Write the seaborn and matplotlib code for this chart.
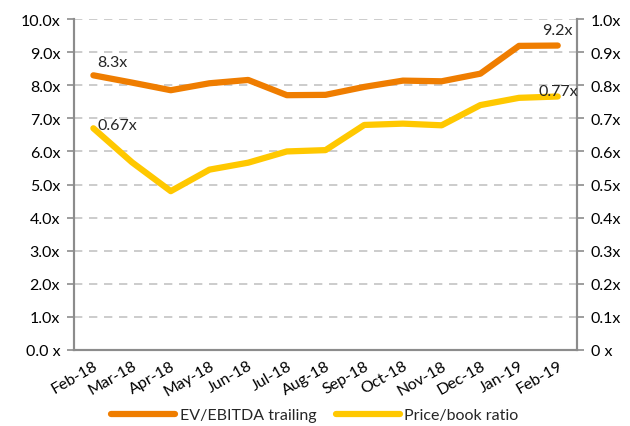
import matplotlib
matplotlib.use("Agg")
import matplotlib.pyplot as plt
import numpy as np
import pandas as pd
import seaborn as sns

months = ["Feb-18", "Mar-18", "Apr-18", "May-18", "Jun-18", "Jul-18", "Aug-18",
          "Sep-18", "Oct-18", "Nov-18", "Dec-18", "Jan-19", "Feb-19"]
ev_ebitda = [8.3, 8.08, 7.85, 8.06, 8.16, 7.7, 7.71, 7.95, 8.14, 8.12, 8.35, 9.19, 9.2]
price_book = [0.67, 0.567, 0.48, 0.545, 0.566, 0.60, 0.604, 0.68, 0.684, 0.679, 0.74, 0.762, 0.766]
left_ticks = ["0.0 x"] + [f"{v:.1f}x" for v in range(1, 11)]
right_ticks = ["0 x"] + [f"{v/10:.1f}x" for v in range(1, 11)]

orange = "#EF7D00"
yellow = "#FFC800"
grey = "#8c8c8c"
fs = 11.5

sns.set_style("white")
plt.rcParams["font.family"] = ["Lato", "DejaVu Sans"]

df = pd.DataFrame({"month": months, "ev": ev_ebitda, "pb": price_book})

fig = plt.figure(figsize=(6.3, 4.27), dpi=100)
ax = fig.add_axes([0.1175, 0.178, 0.7985, 0.775])
ax2 = ax.twinx()

sns.lineplot(data=df, x="month", y="ev", ax=ax, color=orange, lw=4.5, sort=False,
             label="EV/EBITDA trailing", legend=False)
sns.lineplot(data=df, x="month", y="pb", ax=ax2, color=yellow, lw=4.5, sort=False,
             label="Price/book ratio", legend=False)

ax.set_ylim(0, 10)
ax2.set_ylim(0, 1)
ax.set_xlim(-0.5, len(months) - 0.5)

ax.set_yticks(range(11))
ax.set_yticklabels(left_ticks)
ax2.set_yticks(np.arange(11) / 10)
ax2.set_yticklabels(right_ticks)

for y in range(1, 11):
    ax.axhline(y, color="#c4c4c4", lw=1.2, ls=(0, (5, 4)), zorder=0)

ax.set_xticks(range(len(months)))
ax.set_xticklabels(months, rotation=30, ha="right", rotation_mode="anchor")
ax.set_xticks(np.arange(-0.5, len(months)), minor=True)
ax.tick_params(axis="x", which="major", length=0, pad=6)
ax.tick_params(axis="x", which="minor", length=5, color=grey, width=1.2)
ax.tick_params(axis="y", length=5, color=grey, width=1.2, left=True, pad=5)
ax2.tick_params(axis="y", length=5, color=grey, width=1.2, right=True, pad=5)
for a in (ax, ax2):
    a.tick_params(labelsize=fs, labelcolor="black")
    a.set_xlabel("")
    a.set_ylabel("")
    a.spines["top"].set_visible(False)
    for s in ("left", "right", "bottom"):
        a.spines[s].set_color(grey)
        a.spines[s].set_linewidth(1.5)

ax.text(0.1, ev_ebitda[0] + 0.2, "8.3x", fontsize=fs, ha="left", va="bottom")
ax.text(12, ev_ebitda[-1] + 0.25, "9.2x", fontsize=fs, ha="center", va="bottom")
ax2.text(0.1, price_book[0] - 0.01, "0.67x", fontsize=fs, ha="left", va="bottom")
ax2.text(11.5, price_book[-1] - 0.005, "0.77x", fontsize=fs, ha="left", va="bottom")

handles = [plt.Line2D([], [], color=orange, lw=4.5),
           plt.Line2D([], [], color=yellow, lw=4.5)]
fig.legend(handles, ["EV/EBITDA trailing", "Price/book ratio"], loc="lower center",
           bbox_to_anchor=(0.5, -0.025), ncol=2, frameon=False, fontsize=fs,
           handlelength=4, columnspacing=1.2, handletextpad=0.3)

fig.savefig("out.png", dpi=100)
